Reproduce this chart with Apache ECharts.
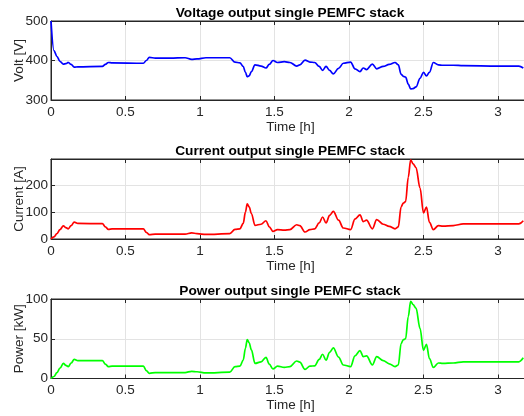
<!DOCTYPE html>
<html>
<head>
<meta charset="utf-8">
<style>
  html, body { margin: 0; padding: 0; background: #ffffff; }
  #chart { width: 524px; height: 416px; }
</style>
<script src="https://cdn.jsdelivr.net/npm/echarts@6/dist/echarts.min.js"></script>
</head>
<body>
<div id="chart"></div>
<script>
// Time stamps in hours
var timeH = [
  0, 0.02, 0.04, 0.06, 0.083, 0.1, 0.116, 0.135, 0.156, 0.18,
  0.345, 0.365, 0.385, 0.41, 0.62, 0.64, 0.66, 0.70, 0.8, 0.9,
  0.944, 0.98, 1.04, 1.2, 1.235, 1.268, 1.29, 1.305, 1.317, 1.33,
  1.345, 1.369, 1.41, 1.443, 1.465, 1.49, 1.52, 1.566, 1.604, 1.649,
  1.67, 1.705, 1.738, 1.77, 1.8, 1.823, 1.846, 1.87, 1.895, 1.93,
  1.962, 2.011, 2.04, 2.074, 2.096, 2.118, 2.157, 2.186, 2.23, 2.27,
  2.309, 2.331, 2.35, 2.365, 2.38, 2.398, 2.414, 2.43, 2.45, 2.477,
  2.5, 2.52, 2.54, 2.566, 2.6, 2.63, 2.7, 2.767, 3.0, 3.14, 3.17
];

// Stack voltage [V]
var voltage = [
  500, 425, 410, 398, 391, 392, 395, 390, 383, 384,
  385, 390, 395, 394, 393, 400, 408, 406, 406, 407,
  403, 404, 407, 407, 396, 394, 385, 370, 359, 361,
  372, 389, 386, 381, 390, 400, 395, 397, 395, 386,
  389, 401, 396, 395, 385, 375, 385, 375, 366, 380,
  393, 396, 379, 372, 381, 377, 391, 379, 385, 390,
  395, 389, 365, 360, 358, 340, 328, 329, 333, 355,
  370, 361, 370, 395, 389, 388, 388, 387, 386, 386, 381
];

// Stack current [A]
var current = [
  0, 8, 20, 35, 49, 42, 38, 50, 63, 58,
  57, 45, 36, 38, 38, 25, 16, 18, 18, 18,
  23, 20, 17, 20, 36, 38, 58, 100, 131, 120,
  95, 51, 55, 68, 45, 28, 35, 33, 35, 53,
  50, 26, 35, 38, 60, 82, 60, 88, 103, 70,
  41, 35, 74, 90, 65, 70, 38, 72, 55, 47,
  38, 45, 120, 134, 139, 230, 295, 280, 266, 190,
  97, 119, 62, 35, 50, 48, 50, 56, 56, 56, 68
];

// Stack power [kW]
var power = [
  0, 2.5, 7.5, 13, 19, 16.5, 15, 19.5, 24, 22.5,
  22.5, 18, 15, 15.5, 15.5, 10, 6.5, 7.5, 7.5, 7.5,
  9, 8.5, 7, 8, 15, 15.5, 23, 38, 49, 45,
  36, 19, 21, 26.5, 18, 12, 15.5, 14, 15, 22,
  20.5, 11.5, 15.5, 16, 24, 30.5, 23, 33, 38.5, 27,
  17, 15, 28.5, 35, 27.5, 28.5, 17, 27.5, 22.5, 18.5,
  15, 17, 44, 49, 50, 78, 97, 93, 88.5, 63,
  35.5, 43, 25, 14, 19.5, 19, 19.5, 21, 21, 21, 26
];

var titles = [
  'Voltage output single PEMFC stack',
  'Current output single PEMFC stack',
  'Power output single PEMFC stack'
];
var yNames = ['Volt [V]', 'Current [A]', 'Power [kW]'];
var yMin = [300, 0, 0];
var yMax = [500, 298, 100];
var yStep = [100, 100, 50];
var xName = 'Time [h]';
var xMax = 3.215;

var FONT = 'Liberation Sans, Arial, Helvetica, sans-serif';
var AXIS_COLOR = '#262626';
var GRID_COLOR = '#e3e3e3';
var lineColors = ['#0000ff', '#ff0000', '#00ff00'];
var seriesValues = [voltage, current, power];

var gridTops = [21, 159, 299];
var gridHeights = [79, 80, 79.5];

function pairs(values) {
  return timeH.map(function (t, i) { return [t, values[i]]; });
}

var grids = [], xAxes = [], yAxes = [], series = [], titleOpts = [];

for (var k = 0; k < 3; k++) {
  grids.push({
    left: 51, top: gridTops[k], width: 479, height: gridHeights[k],
    show: true, borderColor: AXIS_COLOR, borderWidth: 1,
    containLabel: false, outerBoundsMode: 'none'
  });

  titleOpts.push({
    text: titles[k],
    left: 290, top: gridTops[k] - 15, padding: 0,
    textAlign: 'center',
    textStyle: { fontFamily: FONT, fontSize: 13.7, fontWeight: 'bold', color: '#000000' }
  });

  // bottom time axis
  xAxes.push({
    type: 'value', gridIndex: k, min: 0, max: xMax, interval: 0.5,
    name: xName, nameLocation: 'middle', nameGap: 20, nameMoveOverlap: false,
    nameTextStyle: { fontFamily: FONT, fontSize: 13.5, color: AXIS_COLOR },
    axisLine: { show: true, onZero: false, lineStyle: { color: AXIS_COLOR, width: 1 } },
    axisTick: { show: true, inside: true, length: 4, lineStyle: { color: AXIS_COLOR } },
    axisLabel: { fontFamily: FONT, fontSize: 13.5, color: AXIS_COLOR, margin: 5, showMaxLabel: false },
    splitLine: { show: true, lineStyle: { color: GRID_COLOR, width: 1 } }
  });
  // top edge ticks
  xAxes.push({
    type: 'value', gridIndex: k, position: 'top', min: 0, max: xMax, interval: 0.5,
    axisLine: { show: true, onZero: false, lineStyle: { color: AXIS_COLOR, width: 1 } },
    axisTick: { show: true, inside: true, length: 4, lineStyle: { color: AXIS_COLOR } },
    axisLabel: { show: false },
    splitLine: { show: false }
  });

  yAxes.push({
    type: 'value', gridIndex: k, min: yMin[k], max: yMax[k], interval: yStep[k],
    name: yNames[k], nameLocation: 'middle', nameGap: 25, nameMoveOverlap: false,
    nameTextStyle: { fontFamily: FONT, fontSize: 13.5, color: AXIS_COLOR },
    axisLine: { show: true, onZero: false, lineStyle: { color: AXIS_COLOR, width: 1 } },
    axisTick: { show: true, inside: true, length: 4, lineStyle: { color: AXIS_COLOR } },
    axisLabel: { fontFamily: FONT, fontSize: 13.5, color: AXIS_COLOR, margin: 3,
                 showMaxLabel: yMax[k] % yStep[k] === 0 },
    splitLine: { show: true, lineStyle: { color: GRID_COLOR, width: 1 } }
  });

  series.push({
    type: 'line', xAxisIndex: 2 * k, yAxisIndex: k,
    data: pairs(seriesValues[k]),
    showSymbol: false, smooth: 0.35, smoothMonotone: 'x',
    lineStyle: { color: lineColors[k], width: 1.7 },
    animation: false, clip: true
  });
}

var chart = echarts.init(document.getElementById('chart'), null, { renderer: 'canvas' });
chart.setOption({
  backgroundColor: '#ffffff',
  animation: false,
  title: titleOpts,
  grid: grids,
  xAxis: xAxes,
  yAxis: yAxes,
  series: series
});
</script>
</body>
</html>
